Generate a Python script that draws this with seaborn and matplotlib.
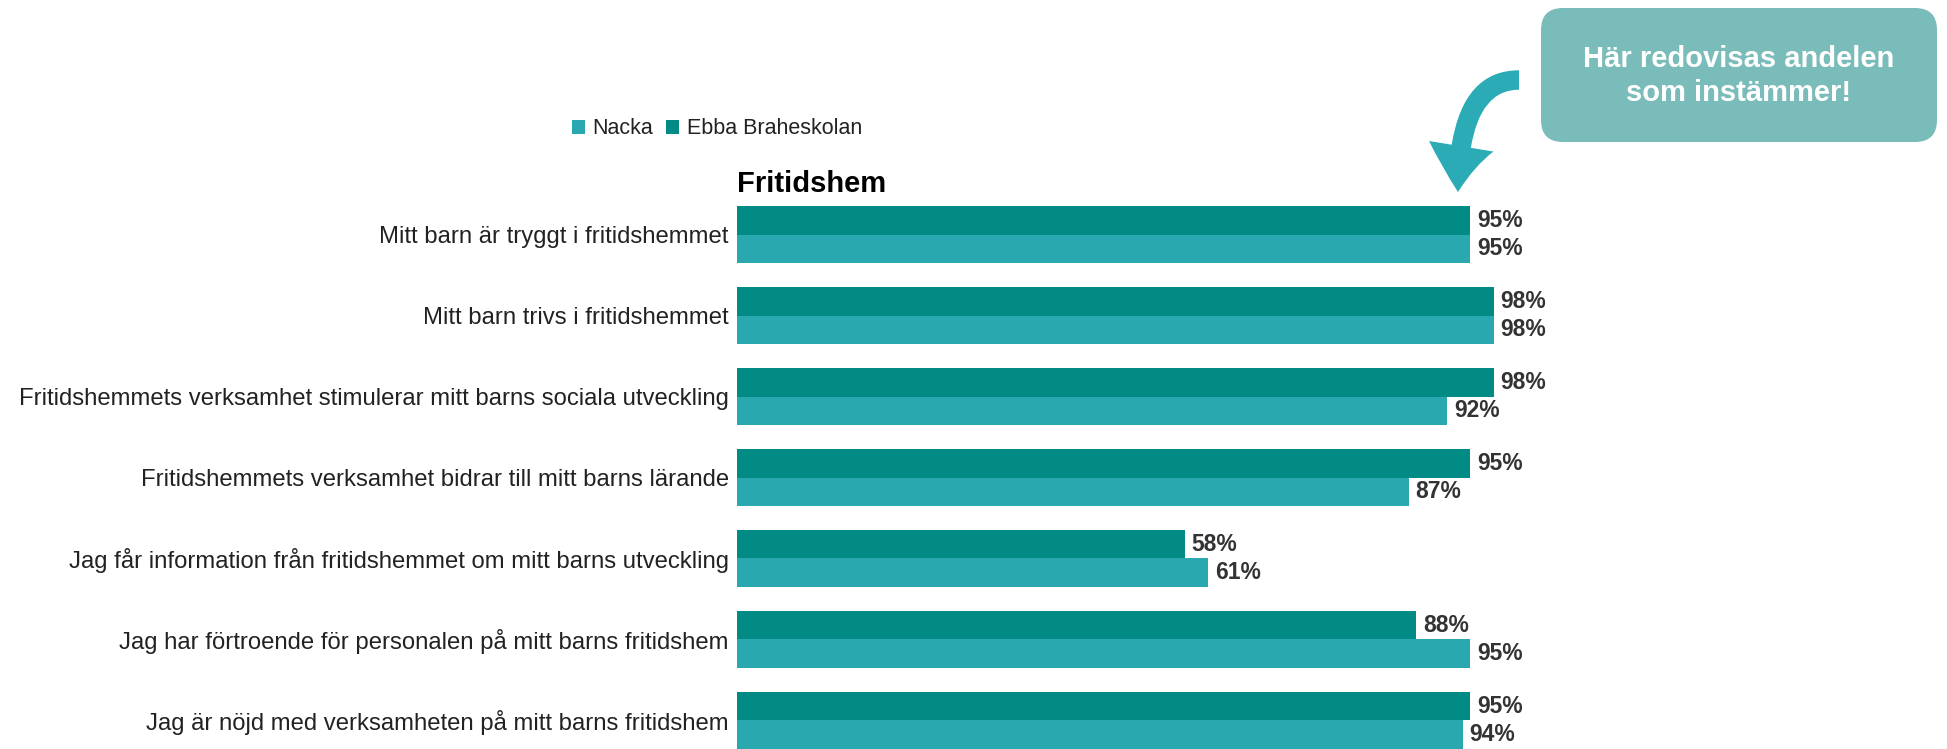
"""
fritidshem.py
-------------
Andel som instämmer - Fritidshem (Nacka vs Ebba Braheskolan)
"""

import matplotlib
matplotlib.use('Agg')
import matplotlib.pyplot as plt
from matplotlib import font_manager
from matplotlib.patches import Patch, FancyBboxPatch, FancyArrowPatch
from matplotlib.transforms import IdentityTransform
import pandas as pd
import seaborn as sns

# ── Données ───────────────────────────────────────────────────────────────────
categories = [
    'Mitt barn är tryggt i fritidshemmet',
    'Mitt barn trivs i fritidshemmet',
    'Fritidshemmets verksamhet stimulerar mitt barns sociala utveckling',
    'Fritidshemmets verksamhet bidrar till mitt barns lärande',
    'Jag får information från fritidshemmet om mitt barns utveckling',
    'Jag har förtroende för personalen på mitt barns fritidshem',
    'Jag är nöjd med verksamheten på mitt barns fritidshem',
]
ebba  = [95, 98, 98, 95, 58, 88, 95]
nacka = [95, 98, 92, 87, 61, 95, 94]
series = ['Nacka', 'Ebba Braheskolan']

DARK  = '#018B84'
LIGHT = '#2AA8B0'
BOX   = '#7ABCBA'
ARROW = '#2AABB5'
TXT   = '#333333'

df = pd.DataFrame({
    'fraga': categories * 2,
    'enhet': ['Ebba Braheskolan'] * len(categories) + ['Nacka'] * len(categories),
    'andel': ebba + nacka,
})

# ── Style ─────────────────────────────────────────────────────────────────────
sns.set_style('white')
plt.rcParams['font.family'] = ['Liberation Sans', 'DejaVu Sans']

names = {f.name for f in font_manager.fontManager.ttflist}
if 'Liberation Sans Narrow' in names:
    NARROW, LAB_FS, LEG_FS = ['Liberation Sans Narrow', 'Liberation Sans'], 21, 18
else:
    NARROW, LAB_FS, LEG_FS = ['Liberation Sans', 'DejaVu Sans'], 17.2, 15.5

W, H = 1947, 749
fig = plt.figure(figsize=(W / 100, H / 100), dpi=100)
ax = fig.add_axes([737 / W, 0, 772 / W, 543 / H])

sns.barplot(data=df, y='fraga', x='andel', hue='enhet',
            hue_order=['Ebba Braheskolan', 'Nacka'],
            palette={'Ebba Braheskolan': DARK, 'Nacka': LIGHT},
            orient='h', width=0.704, saturation=1, gap=0,
            linewidth=0, edgecolor='none', legend=False, ax=ax)

for cont in ax.containers:
    ax.bar_label(cont, labels=[f'{b.get_width():.0f}%' for b in cont],
                 padding=5, fontsize=16.5, fontweight='bold', color=TXT)

ax.set_xlim(0, 100)
ax.set_ylim(len(categories) - 0.648, -0.352)
ax.set_xlabel('')
ax.set_ylabel('')
ax.set_xticks([])
ax.tick_params(axis='y', length=0, pad=6)
for lab in ax.get_yticklabels():
    lab.set_family(NARROW)
    lab.set_fontsize(LAB_FS)
    lab.set_color('#222222')
sns.despine(ax=ax, left=True, bottom=True)

ax.set_title('Fritidshem', loc='left', fontsize=21, fontweight='bold',
             pad=10, color='black')

# ── Légende ───────────────────────────────────────────────────────────────────
handles = [Patch(facecolor=LIGHT, linewidth=0, label=series[0]),
           Patch(facecolor=DARK, linewidth=0, label=series[1])]
fig.legend(handles=handles, loc='center left',
           bbox_to_anchor=(572 / W, 1 - 129 / H), ncol=2, frameon=False,
           prop={'family': NARROW, 'size': LEG_FS},
           handlelength=0.6, handleheight=0.6, handletextpad=0.35,
           columnspacing=0.6, borderpad=0, borderaxespad=0,
           labelcolor='#222222')

# ── Bulle + flèche ────────────────────────────────────────────────────────────
box = FancyBboxPatch((1541, H - 142), 396, 134,
                     boxstyle='round,pad=0,rounding_size=22',
                     transform=IdentityTransform(), facecolor=BOX,
                     edgecolor='none')
fig.add_artist(box)
fig.text(1739 / W, 1 - 76 / H, 'Här redovisas andelen\nsom instämmer!',
         ha='center', va='center', multialignment='center', color='white',
         fontsize=21, fontweight='bold', linespacing=1.25)

arrow = FancyArrowPatch((1519, H - 80), (1458, H - 192),
                        connectionstyle='angle3,angleA=180,angleB=90',
                        arrowstyle='simple,head_width=47,head_length=33,tail_width=14',
                        mutation_scale=1, shrinkA=0, shrinkB=0,
                        transform=IdentityTransform(), facecolor=ARROW,
                        edgecolor='none')
fig.add_artist(arrow)

fig.savefig('out.png', dpi=100)
